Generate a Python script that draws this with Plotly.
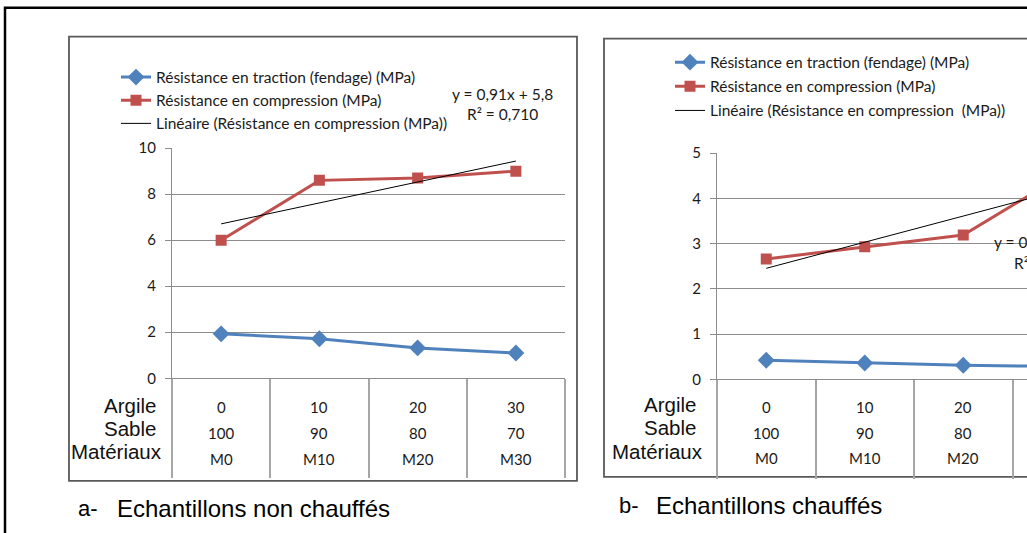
import numpy as np
import plotly.graph_objects as go

W, H = 1027, 533

categories = ["M0", "M10", "M20", "M30"]
argile_pct = ["0", "10", "20", "30"]
sable_pct = ["100", "90", "80", "70"]
row_labels = ["Argile", "Sable", "Matériaux"]

traction_a = [1.93, 1.72, 1.32, 1.10]
compression_a = [6.0, 8.6, 8.7, 9.0]
traction_b = [0.42, 0.36, 0.31, 0.28]
compression_b = [2.66, 2.93, 3.19, 4.5]

eq_a = ["y = 0,91x + 5,8", "R² = 0,710"]
eq_b = ["y = 0,58x + 1,88", "R² = 0,836"]

name_trac = "Résistance en traction (fendage) (MPa)"
name_comp = "Résistance en compression (MPa)"
name_lin_a = "Linéaire (Résistance en compression (MPa))"
name_lin_b = "Linéaire (Résistance en compression \u00a0(MPa))"

captions = [("a-", "Echantillons non chauffés"), ("b-", "Echantillons chauffés")]

BLUE = "#4F81BD"
RED = "#C0504D"
GRID = "#8C8C8C"
FRAME = "#595959"
CHART_FONT = "Lato"
ARIAL = "Liberation Sans"
TXT = "#1a1a1a"

# observed vertical mapping of the screenshot: shown_y = Y0 + K * layout_y
Y0, K = 8.3, 0.97


def px(x):
    return x / W


def py(y):
    return 1 - ((y - Y0) / K) / H


def trend(vals):
    xi = np.arange(1, len(vals) + 1)
    m, b = np.polyfit(xi, vals, 1)
    return m * xi + b


fig = go.Figure()

panels = [
    dict(xa="x", ya="y", leg="legend", trac=traction_a, comp=compression_a, lin=name_lin_a),
    dict(xa="x2", ya="y2", leg="legend2", trac=traction_b, comp=compression_b, lin=name_lin_b),
]
for i, p in enumerate(panels):
    fig.add_trace(go.Scatter(
        x=categories, y=p["trac"], name=name_trac, mode="lines+markers",
        line=dict(color=BLUE, width=3), marker=dict(symbol="diamond", size=13, color=BLUE),
        xaxis=p["xa"], yaxis=p["ya"], legend=p["leg"], legendgroup=f"t{i}"))
    fig.add_trace(go.Scatter(
        x=categories, y=p["comp"], name=name_comp, mode="lines+markers",
        line=dict(color=RED, width=3), marker=dict(symbol="square", size=11, color=RED),
        xaxis=p["xa"], yaxis=p["ya"], legend=p["leg"], legendgroup=f"c{i}"))
    fig.add_trace(go.Scatter(
        x=categories, y=trend(p["comp"]), name=p["lin"], mode="lines",
        line=dict(color="#000000", width=1),
        xaxis=p["xa"], yaxis=p["ya"], legend=p["leg"], legendgroup=f"l{i}"))

xcommon = dict(type="category", categoryorder="array", categoryarray=categories,
               showgrid=False, showline=True, linecolor=GRID, linewidth=1,
               ticks="outside", tickson="boundaries", ticklen=99, tickwidth=1.5,
               tickcolor="#A6A6A6", showticklabels=False, zeroline=False, fixedrange=True)
ycommon = dict(showgrid=True, gridcolor=GRID, gridwidth=1, showline=True, linecolor=GRID,
               linewidth=1, ticks="outside", ticklen=6, tickcolor=GRID, zeroline=False,
               tickfont=dict(family=CHART_FONT, size=15, color=TXT),
               ticklabelstandoff=6)

fig.update_layout(
    width=W, height=H, margin=dict(l=0, r=0, t=0, b=0),
    paper_bgcolor="white", plot_bgcolor="white",
    xaxis=dict(domain=[px(172), px(565)], range=[-0.5, 3.5], anchor="y", **xcommon),
    yaxis=dict(domain=[py(378), py(147)], range=[0, 10], dtick=2, anchor="x", **ycommon),
    xaxis2=dict(domain=[px(717), 1.0], range=[-0.5, -0.5 + (W - 717) / 98.5], anchor="y2", **xcommon),
    yaxis2=dict(domain=[py(379), py(152)], range=[0, 5], dtick=1, anchor="x2", **ycommon),
    legend=dict(x=px(116), y=py(59), xanchor="left", yanchor="top",
                font=dict(family=CHART_FONT, size=15.5, color=TXT),
                bgcolor="rgba(0,0,0,0)", tracegroupgap=0, itemclick=False),
    legend2=dict(x=px(670), y=py(44), xanchor="left", yanchor="top",
                 font=dict(family=CHART_FONT, size=15.5, color=TXT),
                 bgcolor="rgba(0,0,0,0)", tracegroupgap=1, itemclick=False),
    showlegend=True,
)

shapes = []
# outer frame
shapes.append(dict(type="rect", xref="paper", yref="paper", x0=px(5), x1=px(1100), y0=py(700), y1=py(6),
                   line=dict(color="#000000", width=2.5), layer="below"))
# panel frames
shapes.append(dict(type="rect", xref="paper", yref="paper", x0=px(69), x1=px(577), y0=py(481), y1=py(35),
                   line=dict(color=FRAME, width=1.8), layer="below"))
shapes.append(dict(type="rect", xref="paper", yref="paper", x0=px(604), x1=px(1100), y0=py(477), y1=py(37),
                   line=dict(color=FRAME, width=1.8), layer="below"))
fig.update_layout(shapes=shapes)

ann = []
# category table labels
for xa, rows_y in (("x", (407, 433, 459)), ("x2", (407, 433, 458))):
    for k, cat in enumerate(categories):
        for txt, yy in zip((argile_pct[k], sable_pct[k], cat), rows_y):
            ann.append(dict(x=cat, y=py(yy), xref=xa, yref="paper", text=txt, showarrow=False,
                            xanchor="center", yanchor="middle",
                            font=dict(family=CHART_FONT, size=15, color=TXT)))
# row labels
for rx, ys in (((158, 158, 164), (405, 428, 452)), ((698, 698, 705), (404, 427, 452))):
    for lab, xx, yy in zip(row_labels, rx, ys):
        ann.append(dict(x=px(xx), y=py(yy), xref="paper", yref="paper", text=lab, showarrow=False,
                        xanchor="right", yanchor="middle",
                        font=dict(family=ARIAL, size=20.5, color="#111111")))
# equations
for txt, xx, yy in ((eq_a[0], 502, 93), (eq_a[1], 502, 113), (eq_b[0], 1049, 241), (eq_b[1], 1049, 262)):
    ann.append(dict(x=px(xx), y=py(yy), xref="paper", yref="paper", text=txt, showarrow=False,
                    xanchor="center", yanchor="middle",
                    font=dict(family=CHART_FONT, size=15.5, color=TXT)))
# captions
for (lab, cap), lx, cx, yy in zip(captions, (76, 617), (115, 654), (509, 506)):
    ann.append(dict(x=px(lx), y=py(yy), xref="paper", yref="paper", text=lab, showarrow=False,
                    xanchor="left", yanchor="middle", font=dict(family=ARIAL, size=22, color="#000000")))
    ann.append(dict(x=px(cx), y=py(yy), xref="paper", yref="paper", text=cap, showarrow=False,
                    xanchor="left", yanchor="middle", font=dict(family=ARIAL, size=24, color="#000000")))
fig.update_layout(annotations=ann)

fig.write_html("out.html")
